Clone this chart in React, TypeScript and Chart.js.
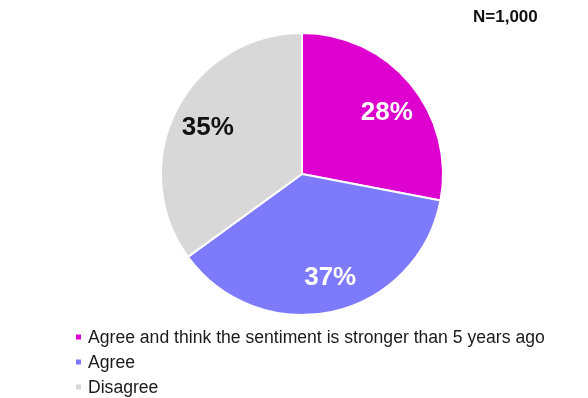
import React, { useEffect, useRef } from "react";
import { Chart, registerables } from "chart.js";

Chart.register(...registerables);

const categories = [
  "Agree and think the sentiment is stronger than 5 years ago",
  "Agree",
  "Disagree",
];
const values = [28, 37, 35];
const sliceLabels = ["28%", "37%", "35%"];
const colors = ["#DE00CE", "#7D7BFC", "#D8D8D8"];
const labelColors = ["#FFFFFF", "#FFFFFF", "#111111"];
const sampleNote = "N=1,000";

const FONT = "'Liberation Sans', Arial, sans-serif";
const angleNudge = [0.05, -0.05, 0];

const overlayPlugin = {
  id: "overlay",
  afterDraw(chart: any) {
    const ctx = chart.ctx;
    ctx.save();
    // slice labels
    const meta = chart.getDatasetMeta(0);
    meta.data.forEach((arc: any, i: number) => {
      const p = arc.getProps(["x", "y", "startAngle", "endAngle", "outerRadius"], true);
      const mid = (p.startAngle + p.endAngle) / 2 + angleNudge[i];
      const r = p.outerRadius * 0.75;
      const x = p.x + Math.cos(mid) * r;
      const y = p.y + Math.sin(mid) * r;
      ctx.font = `bold 26px ${FONT}`;
      ctx.fillStyle = labelColors[i];
      ctx.textAlign = "center";
      ctx.textBaseline = "middle";
      ctx.fillText(sliceLabels[i], x, y + 2);
    });
    // N note
    ctx.font = `bold 17px ${FONT}`;
    ctx.fillStyle = "#111111";
    ctx.textAlign = "left";
    ctx.textBaseline = "middle";
    ctx.fillText(sampleNote, 473, 17);
    // legend
    const labels = chart.data.labels as string[];
    const bg = chart.data.datasets[0].backgroundColor as string[];
    labels.forEach((lab, i) => {
      const y = 337 + i * 25;
      ctx.fillStyle = bg[i];
      ctx.fillRect(76, y - 2.5, 5, 5);
      ctx.fillStyle = "#1a1a1a";
      ctx.font = `17.6px ${FONT}`;
      ctx.textAlign = "left";
      ctx.textBaseline = "middle";
      ctx.fillText(lab, 88, y + 1);
    });
    ctx.restore();
  },
};

export default function App() {
  const ref = useRef<HTMLCanvasElement>(null);
  useEffect(() => {
    document.body.style.margin = "0";
    const chart = new Chart(ref.current!, {
      type: "pie",
      data: {
        labels: categories,
        datasets: [
          {
            data: values,
            backgroundColor: colors,
            borderColor: "#FFFFFF",
            borderWidth: 2,
          },
        ],
      },
      options: {
        animation: false,
        responsive: false,
        rotation: 0,
        layout: { padding: { left: 160, right: 144, top: 32, bottom: 82 } },
        plugins: {
          legend: { display: false },
          tooltip: { enabled: false },
        },
      },
      plugins: [overlayPlugin],
    });
    return () => chart.destroy();
  }, []);
  return (
    <div style={{ width: 588, height: 398, background: "#fff" }}>
      <canvas ref={ref} width={588} height={398} />
    </div>
  );
}
